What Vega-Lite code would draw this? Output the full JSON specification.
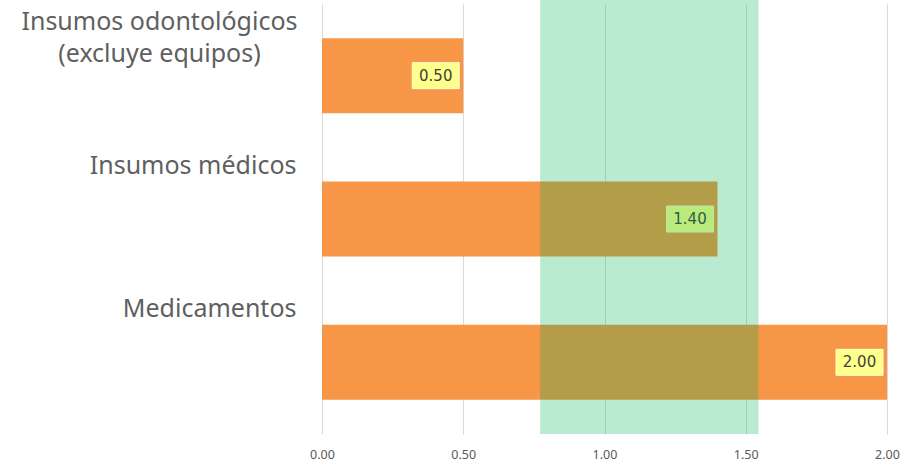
{
  "$schema": "https://vega.github.io/schema/vega-lite/v6.json",
  "width": 565,
  "height": 430,
  "autosize": {"type": "none"},
  "padding": {"left": 322, "top": 4, "right": 36, "bottom": 28},
  "background": "white",
  "config": {"view": {"stroke": null}},
  "datasets": {
    "valores": [
      {"categoria": "Insumos odontológicos (excluye equipos)", "valor": 0.5},
      {"categoria": "Insumos médicos", "valor": 1.4},
      {"categoria": "Medicamentos", "valor": 2.0}
    ],
    "rango": [{"inicio": 0.772, "fin": 1.545}]
  },
  "layer": [
    {
      "data": {"name": "valores"},
      "mark": {"type": "bar", "color": "#F79646"},
      "encoding": {
        "y": {
          "field": "categoria",
          "type": "nominal",
          "sort": null,
          "scale": {"paddingInner": 0.477, "paddingOuter": 0.2385},
          "axis": {
            "title": null,
            "domain": false,
            "ticks": false,
            "labelFont": "Noto Sans",
            "labelFontSize": 25,
            "labelColor": "#5f5f5f",
            "labelLimit": 400,
            "labelLineHeight": 32,
            "labelExpr": "datum.value == 'Insumos odontológicos (excluye equipos)' ? ['Insumos odontológicos', '(excluye equipos)'] : datum.label",
            "labelAlign": {"condition": {"test": "datum.value == 'Insumos odontológicos (excluye equipos)'", "value": "center"}, "value": "right"},
            "labelPadding": {"condition": {"test": "datum.value == 'Insumos odontológicos (excluye equipos)'", "value": 163}, "value": 26},
            "labelOffset": {"condition": {"test": "datum.value == 'Insumos odontológicos (excluye equipos)'", "value": -54}, "value": -53}
          }
        },
        "x": {
          "field": "valor",
          "type": "quantitative",
          "scale": {"domain": [0, 2], "nice": false},
          "axis": {
            "title": null,
            "format": ".2f",
            "values": [0, 0.5, 1, 1.5, 2],
            "domain": false,
            "ticks": false,
            "grid": true,
            "gridColor": "#D9D9D9",
            "labelFlush": false,
            "labelColor": "#595959",
            "labelFont": "Noto Sans",
            "labelFontSize": 12.5,
            "labelPadding": 14
          }
        }
      }
    },
    {
      "data": {"name": "valores"},
      "mark": {"type": "bar", "color": "#FFFF8C", "stroke": "#FFFFD6", "strokeWidth": 1, "height": 26, "xOffset": -51, "x2Offset": -4},
      "encoding": {
        "y": {"field": "categoria", "type": "nominal", "sort": null},
        "x": {"field": "valor", "type": "quantitative"},
        "x2": {"field": "valor"}
      }
    },
    {
      "data": {"name": "valores"},
      "mark": {"type": "text", "dx": -27.5, "align": "center", "baseline": "middle", "font": "DejaVu Sans", "fontSize": 15, "color": "#404040"},
      "encoding": {
        "y": {"field": "categoria", "type": "nominal", "sort": null},
        "x": {"field": "valor", "type": "quantitative"},
        "text": {"field": "valor", "type": "quantitative", "format": ".2f"}
      }
    },
    {
      "data": {"name": "rango"},
      "mark": {"type": "rect", "color": "#00B050", "opacity": 0.27, "yOffset": -4, "y2Offset": 19},
      "encoding": {
        "x": {"field": "inicio", "type": "quantitative"},
        "x2": {"field": "fin"}
      }
    }
  ]
}
